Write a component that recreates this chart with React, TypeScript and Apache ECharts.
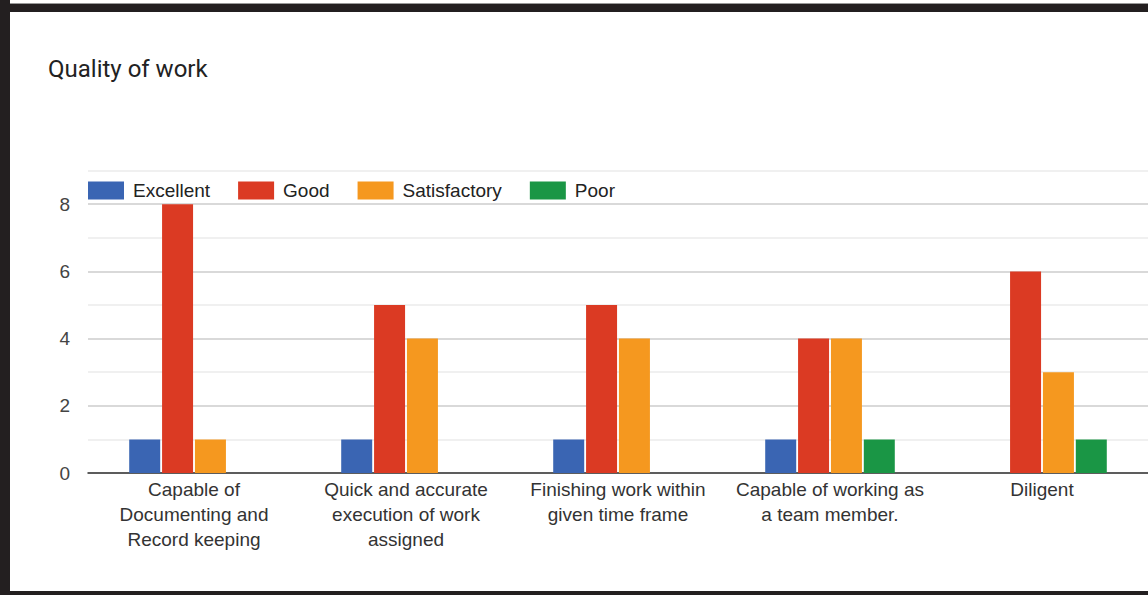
import React, { useEffect, useRef } from "react";
import * as echarts from "echarts";

const categories = [
  "Capable of\nDocumenting and\nRecord keeping",
  "Quick and accurate\nexecution of work\nassigned",
  "Finishing work within\ngiven time frame",
  "Capable of working as\na team member.",
  "Diligent",
];
const excellent = [1, 1, 1, 1, 0];
const good = [8, 5, 5, 4, 6];
const satisfactory = [1, 4, 4, 4, 3];
const poor = [0, 0, 0, 1, 1];
const seriesNames = ["Excellent", "Good", "Satisfactory", "Poor"];
const colors = ["#3a65b3", "#db3a23", "#f5981f", "#1a9645"];
const yTicks = [0, 2, 4, 6, 8];

export default function App() {
  const ref = useRef<HTMLDivElement>(null);
  useEffect(() => {
    if (!ref.current) return;
    const chart = echarts.init(ref.current, null, { renderer: "svg" });
    const values = [excellent, good, satisfactory, poor];
    chart.setOption({
      animation: false,
      backgroundColor: "#ffffff",
      title: {
        text: "Quality of work",
        left: 43,
        top: 52,
        textStyle: { fontFamily: "Roboto", fontSize: 24, fontWeight: "normal", color: "#222" },
      },
      legend: {
        left: 88,
        top: 181,
        padding: 0,
        itemWidth: 36,
        itemHeight: 18,
        itemGap: 28,
        icon: "rect",
        textStyle: { fontFamily: "Liberation Sans, Arial", fontSize: 19, color: "#222", padding: [0, 0, 0, 4] },
        data: seriesNames,
      },
      grid: { left: 88, width: 1068, top: 170.6, bottom: 122, containLabel: false },
      xAxis: {
        type: "category",
        data: categories,
        axisLine: { lineStyle: { color: "#333", width: 1.5 } },
        axisTick: { show: false },
        axisLabel: {
          interval: 0,
          margin: 4,
          fontFamily: "Liberation Sans, Arial",
          fontSize: 19,
          lineHeight: 25,
          color: "#333",
        },
      },
      yAxis: {
        type: "value",
        min: 0,
        max: 9,
        interval: 1,
        axisLine: { show: false },
        axisTick: { show: false },
        axisLabel: {
          margin: 18,
          fontFamily: "Liberation Sans, Arial",
          fontSize: 19,
          color: "#444",
          formatter: (v: number) => (yTicks.includes(v) ? String(v) : ""),
        },
        splitLine: { lineStyle: { color: ["#cccccc", "#ebebeb"], width: 1.5 } },
      },
      series: seriesNames.map((name, i) => ({
        name,
        type: "bar",
        data: values[i],
        barWidth: 31,
        barGap: "6%",
        itemStyle: { color: colors[i] },
      })),
      graphic: [
        { type: "rect", left: 0, top: 3, shape: { width: 1148, height: 1 }, style: { fill: "#999" } },
        { type: "rect", left: 0, top: 4, shape: { width: 1148, height: 8 }, style: { fill: "#231f20" } },
        { type: "rect", left: 0, top: 0, shape: { width: 10, height: 595 }, style: { fill: "#231f20" } },
        { type: "rect", left: 0, top: 591, shape: { width: 1148, height: 4 }, style: { fill: "#231f20" } },
      ],
    });
    return () => chart.dispose();
  }, []);
  return (
    <div
      ref={ref}
      style={{ position: "fixed", left: 0, top: 0, width: 1148, height: 595, background: "#fff" }}
    />
  );
}
